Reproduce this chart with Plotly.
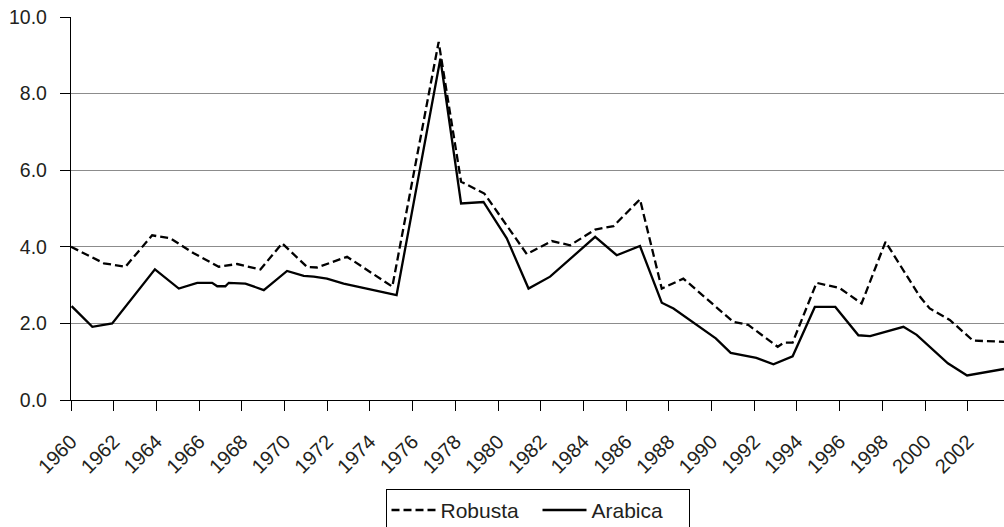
import plotly.graph_objects as go

# Robusta price series (year, value)
robusta_years = [1960.0, 1961.54, 1962.55, 1963.8, 1964.66, 1965.75, 1966.92, 1967.78,
                 1968.87, 1969.89, 1971.06, 1971.53, 1972.93, 1975.05, 1977.22, 1978.27,
                 1979.36, 1981.35, 1982.52, 1983.38, 1984.55, 1985.41, 1986.65, 1987.67,
                 1988.68, 1991.02, 1991.72, 1993.1, 1993.4, 1993.8, 1994.92, 1996.01,
                 1997.03, 1998.15, 1999.76, 2000.22, 2001.16, 2002.25, 2003.7]
robusta_values = [4.00, 3.57, 3.48, 4.30, 4.22, 3.83, 3.48, 3.55,
                  3.41, 4.09, 3.47, 3.46, 3.74, 2.96, 9.35, 5.70,
                  5.39, 3.81, 4.15, 4.04, 4.45, 4.54, 5.24, 2.91,
                  3.17, 2.04, 1.96, 1.39, 1.50, 1.50, 3.06, 2.92,
                  2.52, 4.13, 2.70, 2.39, 2.09, 1.55, 1.52]

# Arabica price series (year, value)
arabica_years = [1960.03, 1961.0, 1961.93, 1963.93, 1965.05, 1965.91, 1966.61, 1966.85,
                 1967.23, 1967.39, 1968.17, 1969.03, 1970.12, 1970.9, 1971.37, 1971.99,
                 1972.77, 1975.25, 1977.3, 1978.27, 1979.32, 1980.41, 1981.43, 1982.44,
                 1984.55, 1985.56, 1986.65, 1987.67, 1988.22, 1989.1, 1990.2, 1990.9,
                 1992.1, 1992.9, 1993.8, 1994.84, 1995.8, 1996.88, 1997.43, 1998.99,
                 1999.61, 2001.07, 2001.97, 2003.7]
arabica_values = [2.45, 1.91, 2.00, 3.41, 2.91, 3.06, 3.06, 2.97,
                  2.97, 3.06, 3.04, 2.87, 3.37, 3.24, 3.22, 3.17,
                  3.04, 2.74, 8.91, 5.13, 5.17, 4.22, 2.91, 3.22,
                  4.26, 3.78, 4.02, 2.54, 2.39, 2.04, 1.61, 1.23,
                  1.10, 0.93, 1.14, 2.43, 2.43, 1.69, 1.67, 1.91,
                  1.70, 0.96, 0.64, 0.81]

x_tick_vals = list(range(1960, 2003, 2))
x_tick_text = [str(y) for y in x_tick_vals]
y_tick_vals = [0, 2, 4, 6, 8, 10]
y_tick_text = ["0.0", "2.0", "4.0", "6.0", "8.0", "10.0"]

FONT = "Liberation Sans, Arial, Helvetica, sans-serif"
INK = "#231f20"

fig = go.Figure()
fig.add_trace(go.Scatter(
    x=robusta_years, y=robusta_values, name="Robusta", mode="lines",
    line=dict(color="black", width=2.3, dash="8px,4px"),
))
fig.add_trace(go.Scatter(
    x=arabica_years, y=arabica_values, name="Arabica", mode="lines",
    line=dict(color="black", width=2.3),
))

fig.update_layout(
    width=1004, height=527,
    margin=dict(l=71, r=0, t=17, b=127, autoexpand=False),
    paper_bgcolor="white", plot_bgcolor="white",
    font=dict(family=FONT, color=INK, size=18),
    showlegend=True,
    legend=dict(
        orientation="h", x=0.5, xanchor="center", y=-0.232, yanchor="top",
        bordercolor="black", borderwidth=1, bgcolor="white",
        font=dict(family=FONT, size=21, color=INK),
        itemwidth=44, entrywidth=92, entrywidthmode="pixels",
    ),
    xaxis=dict(
        range=[1960, 2003.7], tickmode="array",
        tickvals=x_tick_vals, ticktext=x_tick_text, tickangle=-45,
        ticks="outside", ticklen=10, tickcolor="black", tickwidth=1.2,
        showline=True, linecolor="black", linewidth=1.3,
        showgrid=False, zeroline=False,
        tickfont=dict(family=FONT, size=20, color=INK),
        ticklabelstandoff=11,
    ),
    yaxis=dict(
        range=[0, 10], tickmode="array",
        tickvals=y_tick_vals, ticktext=y_tick_text,
        ticks="outside", ticklen=10, tickcolor="black", tickwidth=1.2,
        showline=True, linecolor="black", linewidth=1.3,
        showgrid=True, gridcolor="#8c8c8c", gridwidth=1.2,
        zeroline=False,
        tickfont=dict(family=FONT, size=19.5, color=INK),
        ticklabelstandoff=9,
    ),
)

fig.write_html("out.html")
